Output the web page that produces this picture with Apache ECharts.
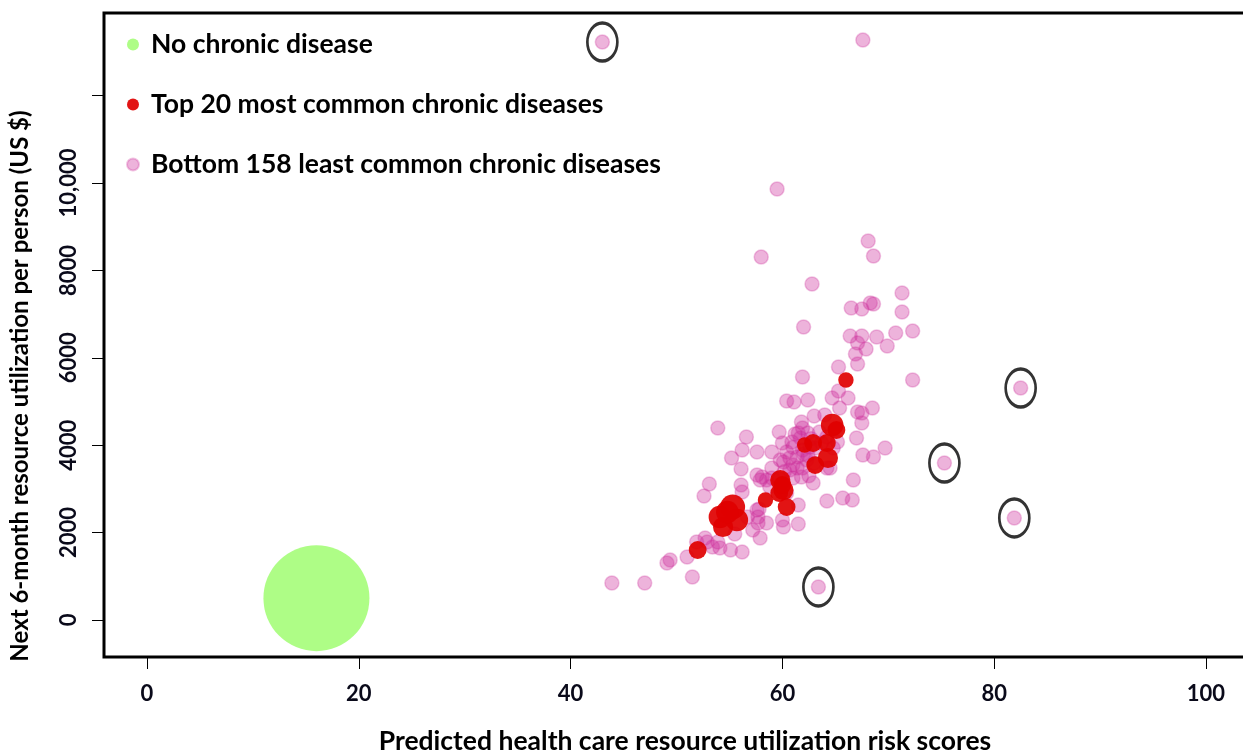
<!DOCTYPE html>
<html>
<head>
<meta charset="utf-8">
<script src="https://cdn.jsdelivr.net/npm/echarts@6/dist/echarts.min.js"></script>
<style>
html,body{margin:0;padding:0;background:#fff;}
#chart{width:1243px;height:755px;}
</style>
</head>
<body>
<div id="chart"></div>
<script>
// ---- data ----
const seriesNames = ['No chronic disease', 'Top 20 most common chronic diseases', 'Bottom 158 least common chronic diseases'];
const xTickValues = [0, 20, 40, 60, 80, 100];
const yTickValues = [0, 2000, 4000, 6000, 8000, 10000, 12000];
const yLabelValues = [0, 2000, 4000, 6000, 8000, 10000];
const yLabelTexts = ['0', '2000', '4000', '6000', '8000', '10,000'];
const xTitle = 'Predicted health care resource utilization risk scores';
const yTitle = 'Next 6-month resource utilization per person (US $)';

// [risk score, cost]
const noChronic = [[16.0, 500]];

// [risk score, cost, relative prevalence weight]
const top20 = [
  [66.0, 5491, 1], [64.7, 4462, 4], [65.1, 4347, 2], [64.2, 4050, 2], [62.9, 4050, 2],
  [62.1, 4004, 1], [64.3, 3707, 3], [63.1, 3546, 2], [59.8, 3203, 3], [60.1, 2974, 3],
  [59.7, 2906, 2], [58.4, 2746, 1], [60.4, 2585, 2], [55.3, 2585, 5], [54.1, 2357, 4],
  [55.7, 2288, 4], [54.4, 2128, 3], [54.8, 2471, 4], [52.0, 1602, 2], [60.0, 3089, 2]
];

// [risk score, cost]
const bottom158 = [
  [43.0, 13225], [67.6, 13270], [59.5, 9861], [68.1, 8672], [58.0, 8305], [68.6, 8328],
  [62.8, 7688], [71.3, 7482], [66.5, 7139], [67.5, 7116], [68.3, 7253], [68.6, 7230],
  [71.3, 7047], [62.0, 6704], [66.4, 6498], [67.5, 6498], [68.9, 6475], [70.7, 6567],
  [72.3, 6612], [67.1, 6338], [67.9, 6200], [69.9, 6269], [66.9, 6086], [67.1, 5857],
  [65.3, 5789], [61.9, 5560], [72.3, 5491], [65.3, 5240], [64.7, 5079], [66.2, 5079],
  [60.4, 5011], [61.1, 4988], [62.4, 5034], [65.4, 4851], [67.1, 4759], [67.5, 4736],
  [68.5, 4851], [63.0, 4668], [64.0, 4690], [53.9, 4393], [61.8, 4530], [61.9, 4393],
  [67.5, 4507], [59.7, 4301], [56.6, 4187], [61.2, 4256], [61.5, 4279], [62.4, 4279],
  [64.2, 4187], [67.0, 4164], [56.2, 3890], [57.6, 3844], [59.0, 3844], [60.0, 4050],
  [60.9, 4073], [61.9, 3890], [62.4, 3775], [60.4, 3844], [60.7, 3707], [55.2, 3707],
  [67.6, 3775], [68.6, 3729], [69.7, 3935], [59.8, 3661], [60.1, 3615], [56.1, 3455],
  [61.0, 3546], [61.4, 3478], [61.9, 3478], [64.2, 3478], [64.5, 3478], [57.6, 3318],
  [58.1, 3272], [59.0, 3249], [59.7, 3226], [61.0, 3249], [61.8, 3272], [53.1, 3112],
  [56.1, 3089], [56.2, 2929], [57.9, 3203], [66.7, 3203], [52.6, 2837], [60.4, 2906],
  [64.2, 2723], [65.7, 2791], [66.6, 2746], [57.6, 2517], [61.5, 2631], [62.9, 3135],
  [57.8, 2540], [57.7, 2357], [56.7, 2357], [58.5, 2219], [57.7, 2219], [60.0, 2288],
  [60.1, 2128], [61.5, 2196], [55.5, 1968], [57.9, 1876], [57.2, 2059], [56.2, 1556],
  [55.1, 1602], [54.1, 1647], [53.4, 1670], [53.9, 1785], [52.9, 1785], [52.7, 1876],
  [51.9, 1785], [51.0, 1441], [49.4, 1373], [49.1, 1304], [51.5, 984], [43.9, 847],
  [47.0, 847], [63.4, 755], [82.5, 5308], [75.3, 3592], [81.9, 2334], [59.0, 3478],
  [61.4, 3729], [62.3, 3661], [62.6, 3958], [61.7, 4164], [63.1, 3935], [63.7, 4050],
  [65.2, 4073], [64.8, 3935], [60.7, 3432], [58.5, 3203], [63.0, 3590], [62.0, 3800],
  [63.5, 4300], [62.7, 4150], [61.0, 3950], [60.2, 3400], [58.8, 3050], [62.5, 3300]
];

// outliers marked with ellipses
const circledOutliers = [[43.0, 13225], [82.5, 5308], [75.3, 3592], [81.9, 2334], [63.4, 755]];

// ---- chart ----
const FONT = 'Lato, "Liberation Sans", sans-serif';
const chart = echarts.init(document.getElementById('chart'), null, {renderer: 'canvas'});
const pink = 'rgba(205,45,155,0.45)';

chart.setOption({
  backgroundColor: '#ffffff',
  animation: false,
  textStyle: {fontFamily: FONT},
  grid: {
    left: 104, top: 13, right: -10, bottom: 98,
    containLabel: false, outerBoundsMode: 'none',
    show: true, borderColor: '#000', borderWidth: 3, backgroundColor: 'transparent'
  },
  legend: {
    data: seriesNames,
    orient: 'vertical',
    left: 121, top: 26,
    itemWidth: 12, itemHeight: 12, itemGap: 33,
    icon: 'circle',
    textStyle: {fontFamily: FONT, fontWeight: 'bold', fontSize: 26.5, color: '#000', lineHeight: 24, padding: [0, 0, 0, 7]},
    selectedMode: false
  },
  xAxis: {
    type: 'value',
    min: -4.06, max: 104.44,
    splitLine: {show: false},
    axisLine: {show: false, onZero: false},
    axisTick: {show: true, length: 12, lineStyle: {color: '#000', width: 1}, customValues: xTickValues},
    axisLabel: {customValues: xTickValues, margin: 26, fontFamily: FONT, fontSize: 22, fontWeight: 'bold', color: '#0a0a1a'}
  },
  yAxis: {
    type: 'value',
    min: -847, max: 13890,
    splitLine: {show: false},
    axisLine: {show: false, onZero: false},
    axisTick: {show: true, length: 12, lineStyle: {color: '#000', width: 1}, customValues: yTickValues},
    axisLabel: {
      customValues: yLabelValues, rotate: 90, margin: 24,
      fontFamily: FONT, fontSize: 22, fontWeight: 'bold', color: '#0a0a1a',
      formatter: function (v) { const i = yLabelValues.indexOf(v); return i >= 0 ? yLabelTexts[i] : ''; }
    }
  },
  graphic: [
    {
      type: 'text', x: 20, y: 386, rotation: Math.PI / 2,
      style: {text: yTitle, fontFamily: FONT, fontWeight: 'bold', fontSize: 24, fill: '#000', align: 'center', verticalAlign: 'middle'}
    },
    {
      type: 'text', x: 685, y: 741,
      style: {text: xTitle, fontFamily: FONT, fontWeight: 'bold', fontSize: 26.5, fill: '#000', align: 'center', verticalAlign: 'middle'}
    }
  ],
  series: [
    {
      name: seriesNames[0], type: 'scatter', data: noChronic,
      symbol: 'circle', symbolSize: 106,
      itemStyle: {color: '#AEFD86', opacity: 1}
    },
    {
      name: seriesNames[2], type: 'scatter', data: bottom158,
      symbol: 'circle', symbolSize: 14,
      itemStyle: {color: pink, borderColor: 'rgba(205,45,155,0.35)', borderWidth: 1.5}
    },
    {
      name: seriesNames[1], type: 'scatter', data: top20,
      symbol: 'circle',
      symbolSize: function (d) { return 13 + d[2] * 2.4; },
      itemStyle: {color: '#E00000', opacity: 0.92}
    },
    {
      name: 'circled', type: 'scatter', data: circledOutliers,
      symbol: 'circle', symbolSize: [30, 38], silent: true,
      itemStyle: {color: 'rgba(0,0,0,0)', borderColor: '#000', borderWidth: 3}
    }
  ]
});
</script>
</body>
</html>
